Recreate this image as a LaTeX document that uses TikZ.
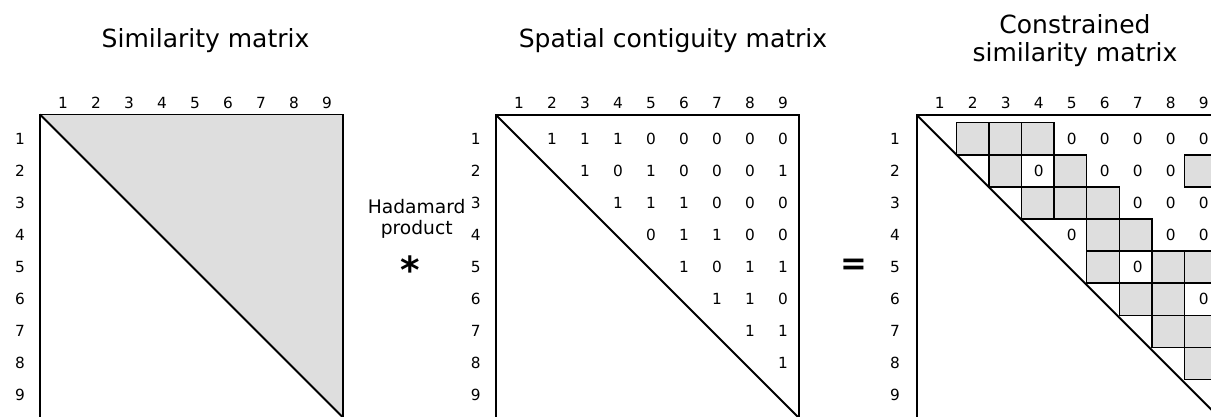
\documentclass[tikz,border=0pt]{standalone}
\usepackage{fontspec}
\setmainfont{DejaVu Sans}
\definecolor{cellgray}{RGB}{222,222,222}
\begin{document}
\begin{tikzpicture}[x=0.75pt,y=-0.75pt,
  title/.style={font=\fontsize{18.75}{21.3}\selectfont, inner sep=0pt, anchor=base, align=center},
  sidelabel/.style={font=\fontsize{14}{15.5}\selectfont, inner sep=0pt, anchor=base, align=center},
  num/.style={font=\fontsize{11.5}{14}\selectfont, inner sep=0pt, anchor=base},
  frame/.style={draw=black, line width=1.4pt, line cap=rect},
  diag/.style={draw=black, line width=1.4pt},
  cellbox/.style={draw=black, fill=cellgray, line width=1.1pt}]
\useasboundingbox (0,0) rectangle (1211,417);
\clip (0,0) rectangle (1211,417);

% ---------- titles ----------
\node[title] (t1) at (205.5,48) {Similarity matrix};
\node[title] (t2) at (673,48) {Spatial contiguity matrix};
\node[title] (t3) at (1075,61.7) {Constrained\\similarity matrix};

% ---------- matrix 1 ----------
\coordinate (a-tl) at (40,114.5);
\coordinate (a-tr) at (343,114.5);
\coordinate (a-br) at (343,417.5);
\coordinate (a-bl) at (40,417.5);
\fill[cellgray] (a-tl) -- (a-tr) -- (a-br) -- cycle;
\draw[frame] (a-bl) -- (a-tl) -- (a-tr) -- (a-br);
\draw[diag] (a-tl) -- (a-br);
\foreach \j in {1,...,9}{
  \node[num] (a-c\j) at ({40+23+(\j-1)*33},109) {\j};
  \node[num] (a-r\j) at (20,{144.8+(\j-1)*32}) {\j};
}

% ---------- operator ----------
\node[sidelabel] (had) at (416.7,234) {Hadamard\\product};
\node[font=\bfseries\fontsize{28}{28}\selectfont, inner sep=0pt] (star) at (410.7,270) {*};
\node[font=\bfseries\fontsize{24}{24}\selectfont, inner sep=0pt] (eq) at (854,266.7) {=};

% ---------- matrix 2 ----------
\coordinate (b-tl) at (496,115);
\coordinate (b-tr) at (799,115);
\coordinate (b-br) at (799,418);
\coordinate (b-bl) at (496,418);
\draw[frame] (b-bl) -- (b-tl) -- (b-tr) -- (b-br);
\draw[diag] (b-tl) -- (b-br);
\foreach \j in {1,...,9}{
  \node[num] (b-c\j) at ({496+23+(\j-1)*33},109) {\j};
  \node[num] (b-r\j) at (475.7,{144.8+(\j-1)*32}) {\j};
}

% ---------- matrix 3 ----------
\coordinate (c-tl) at (916.7,115);
\coordinate (c-tr) at (1219.7,115);
\coordinate (c-br) at (1219.7,418);
\coordinate (c-bl) at (916.7,418);
\foreach \j in {1,...,9}{
  \node[num] (c-c\j) at ({916.7+23+(\j-1)*33},109) {\j};
  \node[num] (c-r\j) at (895,{144.8+(\j-1)*32}) {\j};
}

% ---------- entries ----------
\foreach \i/\vals in {1/{1,1,1,0,0,0,0,0},2/{1,0,1,0,0,0,1},3/{1,1,1,0,0,0},4/{0,1,1,0,0},5/{1,0,1,1},6/{1,1,0},7/{1,1},8/{1}}{
  \foreach \v [count=\k] in \vals {
    \pgfmathtruncatemacro{\j}{\i+\k}
    \node[num] (b-e\i-\j) at ({496+23+(\j-1)*33},{144.8+(\i-1)*32}) {\v};
    \ifnum\v=1
      \draw[cellbox] ({916.7+7+(\j-1)*32.6},{115+7.7+(\i-1)*32.1}) rectangle ++(32.6,32.1);
    \else
      \node[num] (c-e\i-\j) at ({916.7+23+(\j-1)*33},{144.8+(\i-1)*32}) {0};
    \fi
  }
}
\draw[frame] (c-bl) -- (c-tl) -- (c-tr) -- (c-br);
\draw[diag] (c-tl) -- (c-br);
\end{tikzpicture}
\end{document}
